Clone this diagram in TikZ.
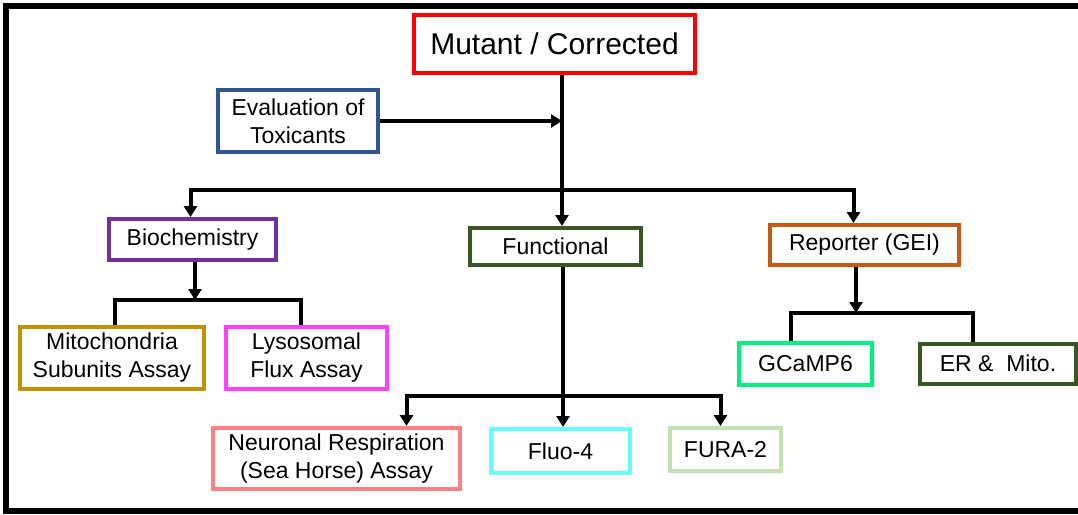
\documentclass[tikz,border=0pt]{standalone}
\usepackage{fontspec}
\setmainfont{Liberation Sans}
\usetikzlibrary{arrows.meta,shadows}

\definecolor{mutred}{RGB}{255,0,0}
\definecolor{evalblue}{RGB}{47,85,151}
\definecolor{biopurple}{RGB}{112,48,160}
\definecolor{darkgreen}{RGB}{56,87,35}
\definecolor{reporange}{RGB}{197,90,17}
\definecolor{mitogold}{RGB}{191,144,0}
\definecolor{lysopink}{RGB}{255,64,255}
\definecolor{neurosalmon}{RGB}{255,128,128}
\definecolor{fluocyan}{RGB}{102,255,255}
\definecolor{furagreen}{RGB}{197,224,180}
\definecolor{gcampgreen}{RGB}{0,240,128}

\begin{document}
\begin{tikzpicture}[x=1pt,y=-1pt,
  box/.style={draw, line width=4pt, fill=white, align=center, inner sep=0pt,
    font=\fontsize{23}{28}\selectfont,
    drop shadow={shadow xshift=1.5pt, shadow yshift=-1.5pt, opacity=0.2}},
  link/.style={line width=4pt},
  arr/.style={link, -{Triangle[length=11pt,width=13pt]}}]
	\useasboundingbox (0,0) rectangle (1078,514);
	\draw[line width=6pt] (1078,6) -- (6,6) -- (6,511) -- (1078,511);

	\node[box, draw=mutred, minimum width=281, minimum height=58,
	  font=\fontsize{30}{34}\selectfont] (mutant) at (554.5,44) {Mutant / Corrected};
	\node[box, draw=evalblue, minimum width=160, minimum height=62] (eval) at (298,121) {Evaluation of\\Toxicants};
	\node[box, draw=biopurple, minimum width=167, minimum height=41] (biochem) at (192.5,239.5) {Biochemistry};
	\node[box, draw=darkgreen, minimum width=171, minimum height=37] (functional) at (555.5,246.5) {Functional};
	\node[box, draw=reporange, minimum width=189, minimum height=40] (reporter) at (864.5,245) {Reporter (GEI)};
	\node[box, draw=mitogold, minimum width=184, minimum height=62] (mito) at (112,358) {Mitochondria\\Subunits Assay};
	\node[box, draw=lysopink, minimum width=161, minimum height=62] (lyso) at (306.5,358) {Lysosomal\\Flux Assay};
	\node[box, draw=neurosalmon, minimum width=247, minimum height=61] (neuro) at (336.5,458.5) {Neuronal Respiration\\(Sea Horse) Assay};
	\node[box, draw=fluocyan, minimum width=139, minimum height=44] (fluo) at (560.5,451) {Fluo-4};
	\node[box, draw=furagreen, minimum width=111, minimum height=43] (fura) at (725.5,449.5) {FURA-2};
	\node[box, draw=gcampgreen, minimum width=133, minimum height=42] (gcamp) at (805.5,364) {GCaMP6};
	\node[box, draw=darkgreen, minimum width=156, minimum height=40] (ermito) at (998,363.5) {ER \&\ \ Mito.};

	% main trunk
	\coordinate (tox) at (562,121);
	\coordinate (split) at (562,190);
	\draw[link] (mutant.south -| tox) -- (tox);
	\draw[arr] (tox) -- (functional.north -| tox);
	\draw[arr] (eval.east) -- (tox);
	\draw[arr] (split) -| ([xshift=-2]biochem.north);
	\draw[arr] (split) -| ([xshift=-11]reporter.north);

	% biochemistry
	\coordinate (bio) at (195,300);
	\draw[arr] (biochem.south -| bio) -- (bio);
	\draw[link] ([xshift=3]mito.north) |- (bio) -| ([xshift=-6]lyso.north);

	% functional
	\coordinate (func) at (563,396);
	\draw[arr] (functional.south -| func) -- (fluo.north -| func);
	\draw[arr] (func) -| ([xshift=70]neuro.north);
	\draw[arr] (func) -| ([xshift=-5]fura.north);

	% reporter
	\coordinate (rep) at (856,313);
	\draw[arr] (reporter.south -| rep) -- (rep);
	\draw[link] ([xshift=-15]gcamp.north) |- (rep) -| ([xshift=-25]ermito.north);
\end{tikzpicture}
\end{document}
